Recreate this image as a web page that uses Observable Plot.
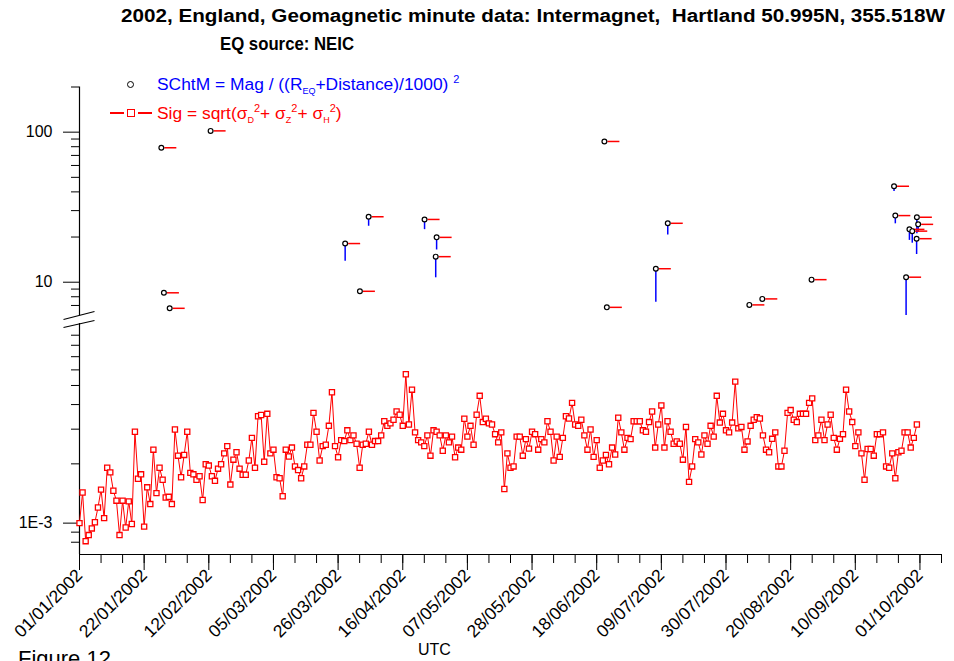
<!DOCTYPE html>
<html>
<head>
<meta charset="utf-8">
<script src="https://cdn.jsdelivr.net/npm/d3@7"></script>
<script src="https://cdn.jsdelivr.net/npm/@observablehq/plot@0.6"></script>
<style>
  html, body { margin: 0; padding: 0; background: #fff; }
  #wrap { position: relative; width: 954px; height: 661px; overflow: hidden; font-family: "Liberation Sans", Arial, sans-serif; color: #000; }
  .abs { position: absolute; white-space: pre; }
  #upper, #lower { position: absolute; left: 0; }
  #upper { top: 0; }
  #lower { top: 320px; }
  .fit { transform-origin: 0 50%; }
  sub { font-size: 9px; vertical-align: -4px; line-height: 0; }
  sup { font-size: 11px; vertical-align: 7px; line-height: 0; }
</style>
</head>
<body>
<div id="wrap">
  <div class="abs fit" data-w="824" style="left:121px;top:6px;font-size:18px;font-weight:bold;">2002, England, Geomagnetic minute data: Intermagnet,  Hartland 50.995N, 355.518W</div>
  <div class="abs fit" data-w="134" style="left:220px;top:34px;font-size:18px;font-weight:bold;">EQ source: NEIC</div>
  <div id="upper"></div>
  <div id="lower"></div>
  <!-- legend -->
  <div class="abs" style="left:127px;top:81px;width:5px;height:5px;border:1px solid #000;border-radius:50%;background:#fff;"></div>
  <div class="abs" style="left:157px;top:73px;font-size:17.4px;line-height:22px;color:#0000ff;">SChtM = Mag / ((R<sub>EQ</sub>+Distance)/1000) <sup>2</sup></div>
  <div class="abs" style="left:110px;top:112px;width:14px;height:1.5px;background:#ff0000;"></div>
  <div class="abs" style="left:138px;top:112px;width:14px;height:1.5px;background:#ff0000;"></div>
  <div class="abs" style="left:127px;top:109px;width:6px;height:6px;border:1.3px solid #ff0000;background:#fff;"></div>
  <div class="abs" style="left:157px;top:102px;font-size:17.4px;line-height:22px;color:#ff0000;">Sig = sqrt(σ<sub>D</sub><sup>2</sup>+ σ<sub>Z</sub><sup>2</sup>+ σ<sub>H</sub><sup>2</sup>)</div>
  <div class="abs" style="left:418px;top:641px;font-size:16px;">UTC</div>
  <div class="abs" style="left:18px;top:646px;font-size:22px;">Figure 12</div>
</div>
<script>
// ---------------- data ----------------
// x range of the chart
const xStart = "2002-01-01";
const xEnd = "2002-10-08";

// Sig series: one value per day starting 01/01/2002, in units of 1E-3
const sigStart = "2002-01-01";
const sigMilli = [
  1.00,1.43,0.81,0.87,0.94,1.01,1.20,1.48,1.06,1.91,
  1.81,1.46,1.30,0.87,1.30,0.95,1.29,0.99,2.91,1.68,
  1.77,0.96,1.52,1.25,2.36,1.42,1.91,1.66,1.35,1.36,
  1.25,2.99,2.20,1.71,2.22,2.91,1.80,1.77,1.66,1.73,
  1.31,1.99,1.96,1.73,1.64,1.89,1.99,2.26,2.46,1.57,
  2.10,2.29,1.89,1.76,1.76,2.08,2.71,1.91,3.49,3.54,
  2.05,3.59,2.26,2.36,1.71,1.69,1.37,2.36,2.18,2.42,
  1.94,1.86,1.69,1.94,2.50,2.50,3.63,2.91,2.08,2.46,
  2.50,3.12,4.62,2.46,2.16,2.64,2.61,2.96,2.64,2.79,
  2.53,1.91,2.50,2.53,2.91,2.50,2.61,2.61,2.79,3.29,
  3.12,3.21,3.35,3.69,3.55,3.12,5.70,3.17,4.76,2.89,
  2.64,2.57,2.46,2.79,2.20,2.96,2.91,2.79,2.33,2.79,
  2.57,2.75,2.16,2.42,2.36,3.39,2.75,3.12,2.50,3.55,
  4.43,3.26,3.39,3.21,3.17,2.83,2.57,2.89,1.49,2.26,
  1.91,1.94,2.75,2.75,2.20,2.67,2.39,2.91,2.83,2.36,
  2.67,2.57,3.29,2.91,2.08,2.75,2.17,2.71,3.49,3.40,
  4.08,3.17,3.12,3.35,2.79,2.36,2.99,2.17,2.64,1.91,
  2.08,2.22,1.99,2.42,2.23,3.43,2.89,2.36,2.71,2.67,
  3.29,3.29,3.29,2.96,2.91,3.26,3.69,2.42,3.17,3.96,
  2.42,3.29,2.91,2.53,2.60,2.53,2.10,3.08,1.62,1.94,
  2.67,2.57,2.23,2.79,2.53,3.12,2.75,4.43,3.24,3.59,
  2.96,2.89,3.24,5.23,3.03,3.08,2.36,2.60,3.12,3.35,
  3.45,3.40,2.79,2.36,2.29,2.68,2.89,1.94,1.94,2.33,
  3.63,3.75,3.35,3.26,3.59,3.59,3.59,4.08,4.30,2.64,
  2.79,3.35,2.64,3.17,3.55,2.71,2.36,2.68,2.83,4.76,
  3.69,3.26,2.46,2.89,2.26,1.66,2.38,2.38,2.20,2.83,
  2.83,2.89,1.94,1.91,2.26,1.69,2.29,2.33,2.89,2.89,
  2.42,2.71,3.17
];

// Earthquake events: time, SChtM value, lower end of the blue bar (null = none)
const eqTimes = [
  "2002-01-27T14:00","2002-02-12T14:00","2002-01-28T10:00","2002-01-30T07:00",
  "2002-03-28T07:00","2002-04-04T22:00","2002-04-02T02:00","2002-04-23T02:00",
  "2002-04-27T00:00","2002-04-26T17:00","2002-06-20T12:00","2002-06-21T07:00",
  "2002-07-11T02:00","2002-07-07T05:00","2002-08-06T14:00","2002-08-10T19:00",
  "2002-08-26T19:00","2002-09-22T14:00","2002-09-23T00:00","2002-09-26T12:00",
  "2002-09-27T14:00","2002-09-28T12:00","2002-09-30T00:00","2002-09-30T10:00",
  "2002-09-29T22:00"
];
const eqSChtM = [78.7,102,8.5,6.7,18.1,27.3,8.7,26.2,19.9,14.8,86.7,6.8,24.7,12.3,7.06,7.74,10.4,43.6,27.8,10.8,22.5,21.9,27.1,24.3,19.5];
const eqLow =   [null,null,null,null,13.8,23.6,null,22.4,16.4,10.7,null,null,20.6,7.36,null,null,null,40.3,24.5,6.0,19.0,18.2,21.0,21.5,15.3];

// axis domains and ticks
const upperDomain = [6, 200];
const upperMajorTicks = [10, 100];
const upperMinorTicks = [7, 8, 9, 20, 30, 40, 50, 60, 70, 80, 90, 200];
const lowerDomain = [6.93e-4, 1.032e-2];
const lowerMajorTicks = [1e-3];
const lowerMinorTicks = [8e-4, 9e-4, 2e-3, 3e-3, 4e-3, 5e-3, 6e-3, 7e-3, 8e-3, 9e-3];
const xTickLabels = ["01/01/2002","22/01/2002","12/02/2002","05/03/2002","26/03/2002","16/04/2002","07/05/2002","28/05/2002","18/06/2002","09/07/2002","30/07/2002","20/08/2002","10/09/2002","01/10/2002"];

// ---------------- build ----------------
const parseDMY = d3.utcParse("%d/%m/%Y");
const fmtDMY = d3.utcFormat("%d/%m/%Y");
const xDomain = [new Date(xStart + "T00:00Z"), new Date(xEnd + "T00:00Z")];
const sig0 = new Date(sigStart + "T00:00Z");
const sig = sigMilli.map((v, i) => ({date: d3.utcDay.offset(sig0, i), value: v * 1e-3}));
const events = eqTimes.map((t, i) => ({date: new Date(t + "Z"), value: eqSChtM[i], low: eqLow[i]}));
const majorX = xTickLabels.map(parseDMY);
const minorX = d3.utcTuesday.range(xDomain[0], d3.utcDay.offset(xDomain[1], 1));

const font = '"Liberation Sans", Arial, sans-serif';
const baseStyle = {background: "transparent", overflow: "visible", fontFamily: font, fontSize: "16px", color: "#000"};

const dashSymbol = {draw(ctx) { ctx.moveTo(3, 0); ctx.lineTo(15, 0); }};
const breakSymbol = {draw(ctx) { ctx.moveTo(-16, 4); ctx.lineTo(15, -4); ctx.moveTo(-16, 12); ctx.lineTo(15, 5); }};

const upper = Plot.plot({
  width: 954, height: 320,
  marginLeft: 79, marginRight: 13, marginTop: 86.5, marginBottom: 5,
  x: {type: "utc", domain: xDomain, axis: null},
  y: {type: "log", domain: upperDomain, label: null},
  style: baseStyle,
  marks: [
    Plot.ruleX([xDomain[0]], {stroke: "#000", strokeWidth: 1.2}),
    Plot.axisY({ticks: upperMajorTicks, tickSize: 16, tickPadding: 11, tickFormat: d => String(d), fontSize: 16, label: null}),
    Plot.axisY({ticks: upperMinorTicks, tickSize: 8, fill: "none", label: null}),
    Plot.ruleX(events.filter(d => d.low != null), {x: "date", y1: "value", y2: "low", stroke: "#0000ff", strokeWidth: 1.5}),
    Plot.dot(events, {x: "date", y: "value", symbol: dashSymbol, stroke: "#ff0000", strokeWidth: 1.5, fill: "none"}),
    Plot.dot(events, {x: "date", y: "value", r: 2.4, stroke: "#000", strokeWidth: 1.2, fill: "#fff"}),
    Plot.dot([{x: xDomain[0], y: upperDomain[0]}], {x: "x", y: "y", symbol: breakSymbol, stroke: "#000", strokeWidth: 1.2, fill: "none"})
  ]
});
document.getElementById("upper").append(upper);

const lower = Plot.plot({
  width: 954, height: 341,
  marginLeft: 79, marginRight: 13, marginTop: 3, marginBottom: 107,
  x: {type: "utc", domain: xDomain, label: null},
  y: {type: "log", domain: lowerDomain, label: null},
  style: baseStyle,
  marks: [
    Plot.ruleX([xDomain[0]], {stroke: "#000", strokeWidth: 1.2}),
    Plot.ruleY([lowerDomain[0]], {stroke: "#000", strokeWidth: 1.2}),
    Plot.axisY({ticks: lowerMajorTicks, tickSize: 16, tickPadding: 11, tickFormat: () => "1E-3", fontSize: 16, label: null}),
    Plot.axisY({ticks: lowerMinorTicks, tickSize: 8, fill: "none", label: null}),
    Plot.axisX({ticks: majorX, tickSize: 16, tickPadding: 2, tickRotate: -45, tickFormat: fmtDMY, fontSize: 17.5, label: null}),
    Plot.axisX({ticks: minorX, tickSize: 9, fill: "none", label: null}),
    Plot.line(sig, {x: "date", y: "value", stroke: "#ff0000", strokeWidth: 1}),
    Plot.dot(sig, {x: "date", y: "value", symbol: "square", r: 2.9, stroke: "#ff0000", strokeWidth: 1.3, fill: "#fff"})
  ]
});
document.getElementById("lower").append(lower);

// fit the title lines to the widths they have in the reference
document.querySelectorAll(".fit").forEach(el => {
  const w = el.getBoundingClientRect().width;
  const target = +el.dataset.w;
  if (w > 0) el.style.transform = `scaleX(${target / w})`;
});
</script>
</body>
</html>
